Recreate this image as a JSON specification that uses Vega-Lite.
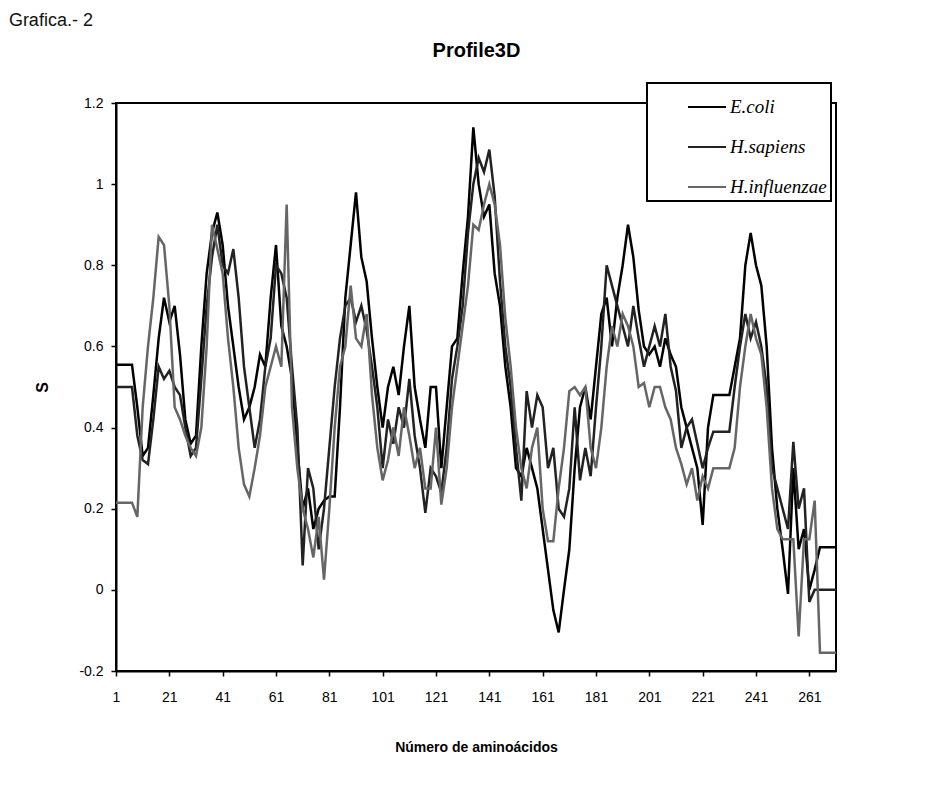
{
  "$schema": "https://vega.github.io/schema/vega-lite/v6.json",
  "width": 720,
  "height": 568,
  "autosize": {"type": "none"},
  "padding": {"left": 116, "top": 103, "right": 113, "bottom": 119},
  "background": "white",
  "title": {"text": "Grafica.- 2", "anchor": "start", "frame": "bounds", "orient": "top", "font": "Liberation Sans", "fontSize": 18, "fontWeight": "normal", "color": "#111", "offset": 0, "dx": -26, "dy": -10},
  "config": {
    "view": {"stroke": "#000", "strokeWidth": 2},
    "legend": {"strokeWidth": 2},
    "axis": {"domainColor": "#000", "domainWidth": 2, "tickColor": "#000", "tickWidth": 1.5, "tickSize": 5, "labelFont": "Liberation Sans", "labelFontSize": 14, "labelColor": "#000", "titleFont": "Liberation Sans", "titleFontSize": 14, "titleFontWeight": "bold", "titleColor": "#000", "grid": false, "labelFlush": false, "labelOverlap": false}
  },
  "data": {"values": [
    {"i":1,"Ecoli":0.555,"Hsapiens":0.5,"Hinfluenzae":0.215},
    {"i":3,"Ecoli":0.555,"Hsapiens":0.5,"Hinfluenzae":0.215},
    {"i":5,"Ecoli":0.555,"Hsapiens":0.5,"Hinfluenzae":0.215},
    {"i":7,"Ecoli":0.555,"Hsapiens":0.5,"Hinfluenzae":0.215},
    {"i":9,"Ecoli":0.45,"Hsapiens":0.38,"Hinfluenzae":0.18},
    {"i":11,"Ecoli":0.33,"Hsapiens":0.32,"Hinfluenzae":0.45},
    {"i":13,"Ecoli":0.35,"Hsapiens":0.31,"Hinfluenzae":0.6},
    {"i":15,"Ecoli":0.48,"Hsapiens":0.42,"Hinfluenzae":0.72},
    {"i":17,"Ecoli":0.62,"Hsapiens":0.55,"Hinfluenzae":0.87},
    {"i":19,"Ecoli":0.72,"Hsapiens":0.52,"Hinfluenzae":0.85},
    {"i":21,"Ecoli":0.66,"Hsapiens":0.54,"Hinfluenzae":0.7},
    {"i":23,"Ecoli":0.7,"Hsapiens":0.5,"Hinfluenzae":0.45},
    {"i":25,"Ecoli":0.58,"Hsapiens":0.48,"Hinfluenzae":0.42},
    {"i":27,"Ecoli":0.42,"Hsapiens":0.4,"Hinfluenzae":0.38},
    {"i":29,"Ecoli":0.36,"Hsapiens":0.33,"Hinfluenzae":0.35},
    {"i":31,"Ecoli":0.38,"Hsapiens":0.35,"Hinfluenzae":0.33},
    {"i":33,"Ecoli":0.6,"Hsapiens":0.52,"Hinfluenzae":0.4},
    {"i":35,"Ecoli":0.78,"Hsapiens":0.7,"Hinfluenzae":0.6},
    {"i":37,"Ecoli":0.88,"Hsapiens":0.82,"Hinfluenzae":0.9},
    {"i":39,"Ecoli":0.93,"Hsapiens":0.9,"Hinfluenzae":0.84},
    {"i":41,"Ecoli":0.85,"Hsapiens":0.8,"Hinfluenzae":0.78},
    {"i":43,"Ecoli":0.7,"Hsapiens":0.78,"Hinfluenzae":0.62},
    {"i":45,"Ecoli":0.6,"Hsapiens":0.84,"Hinfluenzae":0.5},
    {"i":47,"Ecoli":0.5,"Hsapiens":0.72,"Hinfluenzae":0.35},
    {"i":49,"Ecoli":0.42,"Hsapiens":0.55,"Hinfluenzae":0.26},
    {"i":51,"Ecoli":0.45,"Hsapiens":0.45,"Hinfluenzae":0.23},
    {"i":53,"Ecoli":0.5,"Hsapiens":0.35,"Hinfluenzae":0.3},
    {"i":55,"Ecoli":0.58,"Hsapiens":0.42,"Hinfluenzae":0.38},
    {"i":57,"Ecoli":0.55,"Hsapiens":0.55,"Hinfluenzae":0.5},
    {"i":59,"Ecoli":0.72,"Hsapiens":0.62,"Hinfluenzae":0.55},
    {"i":61,"Ecoli":0.85,"Hsapiens":0.8,"Hinfluenzae":0.6},
    {"i":63,"Ecoli":0.65,"Hsapiens":0.78,"Hinfluenzae":0.55},
    {"i":65,"Ecoli":0.6,"Hsapiens":0.72,"Hinfluenzae":0.95},
    {"i":67,"Ecoli":0.52,"Hsapiens":0.55,"Hinfluenzae":0.45},
    {"i":69,"Ecoli":0.35,"Hsapiens":0.4,"Hinfluenzae":0.3},
    {"i":71,"Ecoli":0.2,"Hsapiens":0.06,"Hinfluenzae":0.2},
    {"i":73,"Ecoli":0.25,"Hsapiens":0.3,"Hinfluenzae":0.15},
    {"i":75,"Ecoli":0.15,"Hsapiens":0.25,"Hinfluenzae":0.08},
    {"i":77,"Ecoli":0.2,"Hsapiens":0.1,"Hinfluenzae":0.18},
    {"i":79,"Ecoli":0.22,"Hsapiens":0.2,"Hinfluenzae":0.025},
    {"i":81,"Ecoli":0.23,"Hsapiens":0.35,"Hinfluenzae":0.2},
    {"i":83,"Ecoli":0.23,"Hsapiens":0.5,"Hinfluenzae":0.4},
    {"i":85,"Ecoli":0.45,"Hsapiens":0.62,"Hinfluenzae":0.55},
    {"i":87,"Ecoli":0.72,"Hsapiens":0.7,"Hinfluenzae":0.6},
    {"i":89,"Ecoli":0.85,"Hsapiens":0.72,"Hinfluenzae":0.75},
    {"i":91,"Ecoli":0.98,"Hsapiens":0.66,"Hinfluenzae":0.62},
    {"i":93,"Ecoli":0.82,"Hsapiens":0.7,"Hinfluenzae":0.6},
    {"i":95,"Ecoli":0.76,"Hsapiens":0.64,"Hinfluenzae":0.68},
    {"i":97,"Ecoli":0.62,"Hsapiens":0.55,"Hinfluenzae":0.48},
    {"i":99,"Ecoli":0.5,"Hsapiens":0.45,"Hinfluenzae":0.35},
    {"i":101,"Ecoli":0.4,"Hsapiens":0.3,"Hinfluenzae":0.27},
    {"i":103,"Ecoli":0.5,"Hsapiens":0.42,"Hinfluenzae":0.32},
    {"i":105,"Ecoli":0.55,"Hsapiens":0.36,"Hinfluenzae":0.4},
    {"i":107,"Ecoli":0.48,"Hsapiens":0.45,"Hinfluenzae":0.33},
    {"i":109,"Ecoli":0.6,"Hsapiens":0.4,"Hinfluenzae":0.45},
    {"i":111,"Ecoli":0.7,"Hsapiens":0.52,"Hinfluenzae":0.38},
    {"i":113,"Ecoli":0.5,"Hsapiens":0.38,"Hinfluenzae":0.3},
    {"i":115,"Ecoli":0.42,"Hsapiens":0.3,"Hinfluenzae":0.35},
    {"i":117,"Ecoli":0.35,"Hsapiens":0.19,"Hinfluenzae":0.25},
    {"i":119,"Ecoli":0.5,"Hsapiens":0.3,"Hinfluenzae":0.25},
    {"i":121,"Ecoli":0.5,"Hsapiens":0.28,"Hinfluenzae":0.4},
    {"i":123,"Ecoli":0.3,"Hsapiens":0.24,"Hinfluenzae":0.21},
    {"i":125,"Ecoli":0.45,"Hsapiens":0.35,"Hinfluenzae":0.3},
    {"i":127,"Ecoli":0.6,"Hsapiens":0.52,"Hinfluenzae":0.45},
    {"i":129,"Ecoli":0.62,"Hsapiens":0.6,"Hinfluenzae":0.55},
    {"i":131,"Ecoli":0.78,"Hsapiens":0.7,"Hinfluenzae":0.65},
    {"i":133,"Ecoli":0.92,"Hsapiens":0.88,"Hinfluenzae":0.75},
    {"i":135,"Ecoli":1.14,"Hsapiens":1.0,"Hinfluenzae":0.9},
    {"i":137,"Ecoli":1.0,"Hsapiens":1.065,"Hinfluenzae":0.887},
    {"i":139,"Ecoli":0.92,"Hsapiens":1.03,"Hinfluenzae":0.95},
    {"i":141,"Ecoli":0.95,"Hsapiens":1.085,"Hinfluenzae":1.0},
    {"i":143,"Ecoli":0.78,"Hsapiens":0.97,"Hinfluenzae":0.95},
    {"i":145,"Ecoli":0.7,"Hsapiens":0.76,"Hinfluenzae":0.85},
    {"i":147,"Ecoli":0.55,"Hsapiens":0.6,"Hinfluenzae":0.67},
    {"i":149,"Ecoli":0.45,"Hsapiens":0.5,"Hinfluenzae":0.55},
    {"i":151,"Ecoli":0.3,"Hsapiens":0.35,"Hinfluenzae":0.4},
    {"i":153,"Ecoli":0.28,"Hsapiens":0.22,"Hinfluenzae":0.3},
    {"i":155,"Ecoli":0.35,"Hsapiens":0.49,"Hinfluenzae":0.25},
    {"i":157,"Ecoli":0.3,"Hsapiens":0.4,"Hinfluenzae":0.35},
    {"i":159,"Ecoli":0.25,"Hsapiens":0.48,"Hinfluenzae":0.4},
    {"i":161,"Ecoli":0.15,"Hsapiens":0.45,"Hinfluenzae":0.2},
    {"i":163,"Ecoli":0.05,"Hsapiens":0.3,"Hinfluenzae":0.12},
    {"i":165,"Ecoli":-0.05,"Hsapiens":0.35,"Hinfluenzae":0.12},
    {"i":167,"Ecoli":-0.105,"Hsapiens":0.2,"Hinfluenzae":0.25},
    {"i":169,"Ecoli":0.0,"Hsapiens":0.18,"Hinfluenzae":0.35},
    {"i":171,"Ecoli":0.1,"Hsapiens":0.25,"Hinfluenzae":0.49},
    {"i":173,"Ecoli":0.3,"Hsapiens":0.45,"Hinfluenzae":0.5},
    {"i":175,"Ecoli":0.45,"Hsapiens":0.27,"Hinfluenzae":0.48},
    {"i":177,"Ecoli":0.5,"Hsapiens":0.35,"Hinfluenzae":0.5},
    {"i":179,"Ecoli":0.42,"Hsapiens":0.28,"Hinfluenzae":0.35},
    {"i":181,"Ecoli":0.55,"Hsapiens":0.45,"Hinfluenzae":0.3},
    {"i":183,"Ecoli":0.68,"Hsapiens":0.6,"Hinfluenzae":0.4},
    {"i":185,"Ecoli":0.72,"Hsapiens":0.8,"Hinfluenzae":0.55},
    {"i":187,"Ecoli":0.6,"Hsapiens":0.75,"Hinfluenzae":0.65},
    {"i":189,"Ecoli":0.72,"Hsapiens":0.7,"Hinfluenzae":0.6},
    {"i":191,"Ecoli":0.8,"Hsapiens":0.65,"Hinfluenzae":0.68},
    {"i":193,"Ecoli":0.9,"Hsapiens":0.6,"Hinfluenzae":0.65},
    {"i":195,"Ecoli":0.82,"Hsapiens":0.7,"Hinfluenzae":0.6},
    {"i":197,"Ecoli":0.69,"Hsapiens":0.62,"Hinfluenzae":0.5},
    {"i":199,"Ecoli":0.6,"Hsapiens":0.55,"Hinfluenzae":0.51},
    {"i":201,"Ecoli":0.58,"Hsapiens":0.6,"Hinfluenzae":0.45},
    {"i":203,"Ecoli":0.6,"Hsapiens":0.65,"Hinfluenzae":0.5},
    {"i":205,"Ecoli":0.55,"Hsapiens":0.6,"Hinfluenzae":0.5},
    {"i":207,"Ecoli":0.62,"Hsapiens":0.68,"Hinfluenzae":0.45},
    {"i":209,"Ecoli":0.58,"Hsapiens":0.55,"Hinfluenzae":0.42},
    {"i":211,"Ecoli":0.55,"Hsapiens":0.49,"Hinfluenzae":0.35},
    {"i":213,"Ecoli":0.45,"Hsapiens":0.35,"Hinfluenzae":0.31},
    {"i":215,"Ecoli":0.4,"Hsapiens":0.4,"Hinfluenzae":0.26},
    {"i":217,"Ecoli":0.35,"Hsapiens":0.42,"Hinfluenzae":0.3},
    {"i":219,"Ecoli":0.3,"Hsapiens":0.36,"Hinfluenzae":0.22},
    {"i":221,"Ecoli":0.16,"Hsapiens":0.3,"Hinfluenzae":0.28},
    {"i":223,"Ecoli":0.4,"Hsapiens":0.35,"Hinfluenzae":0.25},
    {"i":225,"Ecoli":0.48,"Hsapiens":0.39,"Hinfluenzae":0.3},
    {"i":227,"Ecoli":0.48,"Hsapiens":0.39,"Hinfluenzae":0.3},
    {"i":229,"Ecoli":0.48,"Hsapiens":0.39,"Hinfluenzae":0.3},
    {"i":231,"Ecoli":0.48,"Hsapiens":0.39,"Hinfluenzae":0.3},
    {"i":233,"Ecoli":0.55,"Hsapiens":0.5,"Hinfluenzae":0.35},
    {"i":235,"Ecoli":0.62,"Hsapiens":0.6,"Hinfluenzae":0.5},
    {"i":237,"Ecoli":0.8,"Hsapiens":0.68,"Hinfluenzae":0.6},
    {"i":239,"Ecoli":0.88,"Hsapiens":0.62,"Hinfluenzae":0.68},
    {"i":241,"Ecoli":0.8,"Hsapiens":0.66,"Hinfluenzae":0.62},
    {"i":243,"Ecoli":0.75,"Hsapiens":0.6,"Hinfluenzae":0.58},
    {"i":245,"Ecoli":0.6,"Hsapiens":0.5,"Hinfluenzae":0.45},
    {"i":247,"Ecoli":0.35,"Hsapiens":0.3,"Hinfluenzae":0.25},
    {"i":249,"Ecoli":0.2,"Hsapiens":0.25,"Hinfluenzae":0.15},
    {"i":251,"Ecoli":0.1,"Hsapiens":0.2,"Hinfluenzae":0.125},
    {"i":253,"Ecoli":-0.01,"Hsapiens":0.15,"Hinfluenzae":0.125},
    {"i":255,"Ecoli":0.3,"Hsapiens":0.365,"Hinfluenzae":0.125},
    {"i":257,"Ecoli":0.1,"Hsapiens":0.2,"Hinfluenzae":-0.115},
    {"i":259,"Ecoli":0.15,"Hsapiens":0.25,"Hinfluenzae":0.125},
    {"i":261,"Ecoli":0.0,"Hsapiens":-0.03,"Hinfluenzae":0.125},
    {"i":263,"Ecoli":0.05,"Hsapiens":0.0,"Hinfluenzae":0.22},
    {"i":265,"Ecoli":0.105,"Hsapiens":0.0,"Hinfluenzae":-0.155},
    {"i":267,"Ecoli":0.105,"Hsapiens":0.0,"Hinfluenzae":-0.155},
    {"i":269,"Ecoli":0.105,"Hsapiens":0.0,"Hinfluenzae":-0.155},
    {"i":271,"Ecoli":0.105,"Hsapiens":0.0,"Hinfluenzae":-0.155}
  ]},
  "transform": [{"fold": ["Ecoli", "Hsapiens", "Hinfluenzae"], "as": ["serie", "s"]}],
  "layer": [
    {
      "mark": {"type": "line", "strokeWidth": 2.5, "interpolate": "linear"},
      "encoding": {
        "x": {"field": "i", "type": "quantitative", "scale": {"domain": [1, 271], "nice": false, "zero": false},
          "axis": {"orient": "bottom", "values": [1, 21, 41, 61, 81, 101, 121, 141, 161, 181, 201, 221, 241, 261], "format": "d", "labelPadding": 14, "title": "Número de aminoácidos", "titlePadding": 36}},
        "y": {"field": "s", "type": "quantitative", "scale": {"domain": [-0.2, 1.2], "nice": false, "zero": false},
          "axis": {"values": [-0.2, 0, 0.2, 0.4, 0.6, 0.8, 1, 1.2], "labelExpr": "replace(format(datum.value, '.1~f'), '−', '-')", "labelPadding": 8, "title": "S", "titleFontSize": 16, "titlePadding": 28}},
        "color": {"field": "serie", "type": "nominal",
          "scale": {"domain": ["Ecoli", "Hsapiens", "Hinfluenzae"], "range": ["#000000", "#222222", "#666666"]},
          "legend": {"orient": "none", "legendX": 531, "legendY": -20, "title": null, "direction": "vertical", "symbolType": "stroke", "symbolSize": 1444, "symbolStrokeWidth": 2, "symbolOffset": 36, "labelFont": "Liberation Serif", "labelFontStyle": "italic", "labelFontSize": 19, "labelColor": "#000", "labelOffset": 3, "padding": 4, "rowPadding": 10, "strokeColor": "#000", "fillColor": "white",
            "labelExpr": "datum.label == 'Ecoli' ? 'E.coli' : datum.label == 'Hsapiens' ? 'H.sapiens' : 'H.influenzae'"}}
      }
    },
    {
      "mark": {"type": "rule", "opacity": 0},
      "encoding": {
        "x": {"field": "i", "type": "quantitative",
          "axis": {"orient": "top", "labels": false, "ticks": false, "domain": false, "grid": false, "title": "Profile3D", "titleFontSize": 20, "titleFontWeight": "bold", "titlePadding": 43}}
      }
    }
  ],
  "resolve": {"axis": {"x": "independent"}}
}
